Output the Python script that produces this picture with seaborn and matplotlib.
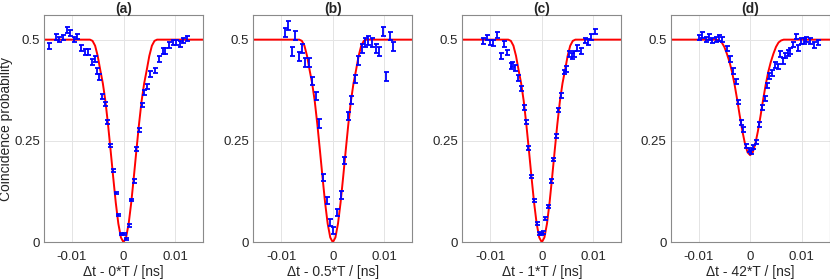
import matplotlib
matplotlib.use("Agg")
import matplotlib.pyplot as plt
import numpy as np
import seaborn as sns


PANEL_TITLES = ["(a)", "(b)", "(c)", "(d)"]
X_LABELS = ["Δt - 0*T / [ns]", "Δt - 0.5*T / [ns]", "Δt - 1*T / [ns]", "Δt - 42*T / [ns]"]

a_x = [-0.0144, -0.0130, -0.0124, -0.0117, -0.0109, -0.0103, -0.0095, -0.0090, -0.0083, -0.0075,
       -0.0069, -0.0061, -0.0056, -0.0052, -0.0048, -0.0041, -0.0036, -0.0032, -0.0026, -0.0021,
       -0.0015, -0.0010, -0.0005, 0.0000, 0.0005, 0.0010, 0.0015, 0.0020, 0.0025, 0.0030,
       0.0035, 0.0040, 0.0046, 0.0051, 0.0061, 0.0068, 0.0076, 0.0081, 0.0089, 0.0095,
       0.0102, 0.0110, 0.0116, 0.0123]
a_y = [0.484, 0.507, 0.500, 0.505, 0.523, 0.517, 0.500, 0.508, 0.479, 0.470,
       0.470, 0.445, 0.452, 0.423, 0.408, 0.360, 0.341, 0.297, 0.239, 0.177,
       0.122, 0.067, 0.020, 0.020, 0.008, 0.042, 0.104, 0.151, 0.230, 0.278,
       0.338, 0.369, 0.385, 0.416, 0.424, 0.453, 0.472, 0.472, 0.486, 0.493,
       0.493, 0.490, 0.498, 0.503]
a_err = [0.007, 0.007, 0.007, 0.007, 0.007, 0.007, 0.007, 0.007, 0.007, 0.007,
         0.007, 0.007, 0.007, 0.007, 0.007, 0.006, 0.005, 0.005, 0.004, 0.004,
         0.003, 0.003, 0.003, 0.003, 0.003, 0.003, 0.003, 0.004, 0.004, 0.005,
         0.005, 0.006, 0.006, 0.007, 0.007, 0.007, 0.007, 0.007, 0.007, 0.007,
         0.007, 0.007, 0.007, 0.007]

b_x = [-0.0093, -0.0087, -0.0079, -0.0073, -0.0065, -0.0059, -0.0053, -0.0046, -0.0040, -0.0033,
       -0.0026, -0.0019, -0.0012, -0.0006, 0.0001, 0.0008, 0.0015, 0.0022, 0.0029, 0.0035,
       0.0042, 0.0049, 0.0056, 0.0062, 0.0069, 0.0075, 0.0083, 0.0089, 0.0097, 0.0103,
       0.0110, 0.0117]
b_y = [0.517, 0.534, 0.471, 0.510, 0.459, 0.478, 0.444, 0.444, 0.397, 0.361,
       0.293, 0.160, 0.104, 0.049, 0.029, 0.074, 0.117, 0.202, 0.311, 0.351,
       0.403, 0.449, 0.479, 0.492, 0.498, 0.494, 0.478, 0.470, 0.519, 0.410,
       0.509, 0.482]
b_err = [0.011, 0.011, 0.011, 0.011, 0.011, 0.011, 0.011, 0.011, 0.010, 0.010,
         0.010, 0.009, 0.009, 0.008, 0.008, 0.008, 0.009, 0.009, 0.010, 0.010,
         0.010, 0.011, 0.011, 0.011, 0.011, 0.011, 0.011, 0.011, 0.011, 0.011,
         0.011, 0.011]

c_x = [-0.0114, -0.0107, -0.0101, -0.0095, -0.0087, -0.0080, -0.0073, -0.0067, -0.0060, -0.0057,
       -0.0051, -0.0046, -0.0041, -0.0035, -0.0031, -0.0026, -0.0021, -0.0015, -0.0010, -0.0005,
       -0.0001, 0.0002, 0.0006, 0.0012, 0.0017, 0.0022, 0.0027, 0.0032, 0.0037, 0.0042,
       0.0047, 0.0053, 0.0059, 0.0063, 0.0069, 0.0076, 0.0084, 0.0090, 0.0096, 0.0103]
c_y = [0.496, 0.505, 0.493, 0.492, 0.511, 0.459, 0.490, 0.468, 0.435, 0.439,
       0.430, 0.406, 0.379, 0.333, 0.297, 0.233, 0.163, 0.103, 0.046, 0.022,
       0.020, 0.024, 0.059, 0.088, 0.151, 0.205, 0.262, 0.326, 0.363, 0.420,
       0.427, 0.464, 0.460, 0.464, 0.479, 0.472, 0.498, 0.495, 0.507, 0.520]
c_err = [0.007, 0.007, 0.007, 0.007, 0.007, 0.007, 0.007, 0.007, 0.007, 0.007,
         0.007, 0.007, 0.006, 0.006, 0.005, 0.005, 0.004, 0.004, 0.003, 0.003,
         0.003, 0.003, 0.003, 0.003, 0.004, 0.004, 0.005, 0.005, 0.006, 0.006,
         0.007, 0.007, 0.007, 0.007, 0.007, 0.007, 0.007, 0.007, 0.007, 0.007]

d_x = [-0.0100, -0.0094, -0.0086, -0.0080, -0.0073, -0.0066, -0.0060, -0.0055, -0.0045, -0.0040,
       -0.0033, -0.0028, -0.0024, -0.0018, -0.0013, -0.0008, -0.0003, 0.0001, 0.0006, 0.0012,
       0.0018, 0.0023, 0.0028, 0.0032, 0.0037, 0.0043, 0.0048, 0.0053, 0.0058, 0.0063,
       0.0068, 0.0073, 0.0078, 0.0083, 0.0088, 0.0093, 0.0098, 0.0104, 0.0109, 0.0115,
       0.0123, 0.0131]
d_y = [0.505, 0.511, 0.500, 0.507, 0.498, 0.500, 0.504, 0.500, 0.478, 0.452,
       0.422, 0.396, 0.346, 0.295, 0.278, 0.237, 0.227, 0.223, 0.234, 0.247,
       0.291, 0.333, 0.355, 0.386, 0.411, 0.418, 0.437, 0.434, 0.464, 0.447,
       0.461, 0.467, 0.472, 0.488, 0.508, 0.479, 0.496, 0.496, 0.500, 0.496,
       0.486, 0.493]
d_err = [0.007, 0.007, 0.007, 0.007, 0.007, 0.007, 0.007, 0.007, 0.007, 0.007,
         0.007, 0.006, 0.006, 0.006, 0.006, 0.005, 0.005, 0.005, 0.005, 0.005,
         0.006, 0.006, 0.006, 0.006, 0.007, 0.007, 0.007, 0.007, 0.007, 0.007,
         0.007, 0.007, 0.007, 0.007, 0.007, 0.007, 0.007, 0.007, 0.007, 0.007,
         0.007, 0.007]

# fitted curves at these delays
fit_x = [-0.016, -0.0065, -0.006, -0.0055, -0.005, -0.0045, -0.004, -0.0035, -0.003, -0.0025,
         -0.002, -0.0015, -0.001, -0.0005, 0.0, 0.0005, 0.001, 0.0015, 0.002, 0.0025,
         0.003, 0.0035, 0.004, 0.0045, 0.005, 0.0055, 0.006, 0.0065, 0.016]
fit_abc = [0.5, 0.5, 0.497, 0.485, 0.46, 0.425, 0.392, 0.348, 0.291, 0.227,
           0.161, 0.098, 0.046, 0.012, 0.0, 0.012, 0.046, 0.098, 0.161, 0.227,
           0.291, 0.348, 0.392, 0.425, 0.46, 0.485, 0.497, 0.5, 0.5]
fit_d = [0.5, 0.5, 0.498, 0.493, 0.482, 0.465, 0.445, 0.420, 0.388, 0.351,
         0.311, 0.274, 0.243, 0.222, 0.215, 0.222, 0.243, 0.274, 0.311, 0.351,
         0.388, 0.420, 0.445, 0.465, 0.482, 0.493, 0.498, 0.5, 0.5]

PANELS = [
    (a_x, a_y, a_err, fit_abc),
    (b_x, b_y, b_err, fit_abc),
    (c_x, c_y, c_err, fit_abc),
    (d_x, d_y, d_err, fit_d),
]


def main():
    sns.set_theme(style="whitegrid")
    plt.rcParams["font.family"] = ["Liberation Sans", "DejaVu Sans"]
    fig = plt.figure(figsize=(8.3, 2.79), dpi=100)
    lefts = [0.053, 0.3052, 0.557, 0.808]
    for i, (xs, ys, errs, fit_y) in enumerate(PANELS):
        ax = fig.add_axes([lefts[i], 0.1315, 0.1916, 0.8136])
        sns.lineplot(x=fit_x, y=fit_y, ax=ax, color="#ff0000", linewidth=1.4, zorder=2)
        ax.errorbar(xs, ys, yerr=errs, fmt="none", ecolor="#0000ff", elinewidth=1.3,
                    capsize=1.8, capthick=1.3, zorder=3)
        ax.set_xlim(-0.0154, 0.0154)
        ax.set_ylim(0, 0.56)
        ax.set_xticks([-0.01, 0, 0.01])
        ax.set_xticklabels(["-0.01", "0", "0.01"])
        ax.set_yticks([0, 0.25, 0.5])
        ax.set_yticklabels(["0", "0.25", "0.5"])
        ax.grid(True, color="#e4e4e4", linewidth=0.7)
        ax.set_facecolor("white")
        for sp in ax.spines.values():
            sp.set_color("#8a8a8a")
            sp.set_linewidth(0.8)
        ax.tick_params(axis="both", direction="in", length=2.5, width=0.6, color="#8a8a8a",
                       labelsize=9.5, labelcolor="#262626")
        ax.tick_params(axis="x", pad=6)
        ax.tick_params(axis="y", pad=3)
        ax.set_xlabel(X_LABELS[i], fontsize=10, color="#262626", labelpad=1.5)
        if i == 0:
            ax.set_ylabel("Coincidence probability", fontsize=10, color="#262626")
            ax.yaxis.set_label_coords(-0.193, 0.5)
        ax.set_title(PANEL_TITLES[i], fontsize=10, fontweight="bold", pad=2)
    fig.savefig("out.png", dpi=100)


if __name__ == "__main__":
    main()
